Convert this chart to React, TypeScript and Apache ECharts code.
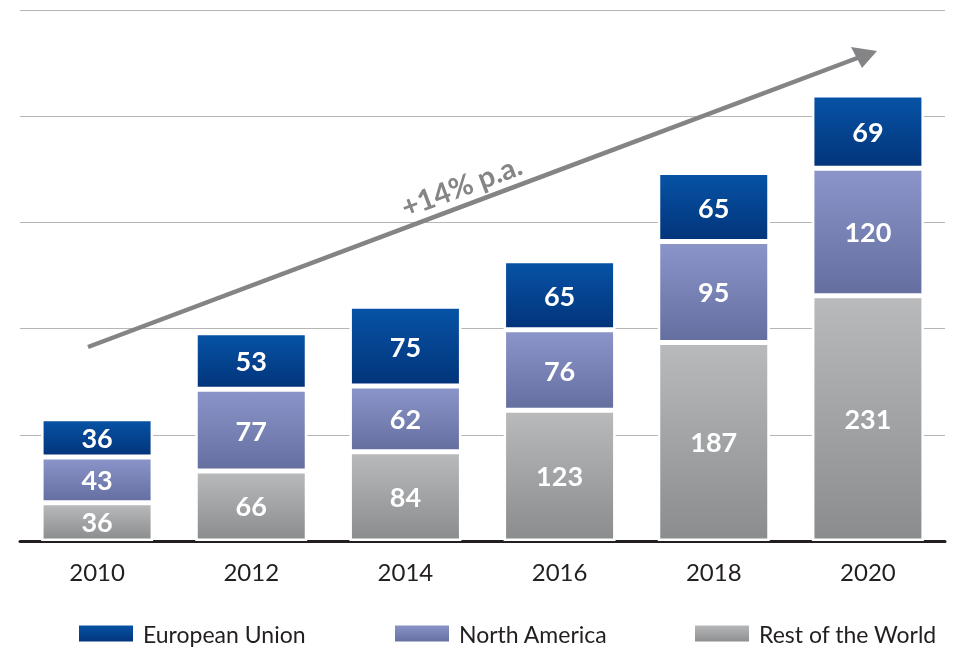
import React, { useEffect, useRef } from "react";
import * as echarts from "echarts";

const categories = ["2010", "2012", "2014", "2016", "2018", "2020"];
const restOfWorld = [36, 66, 84, 123, 187, 231];
const northAmerica = [43, 77, 62, 76, 95, 120];
const europeanUnion = [36, 53, 75, 65, 65, 69];
const seriesNames = ["European Union", "North America", "Rest of the World"];
const growthLabel = "+14% p.a.";

const FONT = "Lato, 'Open Sans', sans-serif";

const grad = (top: string, bottom: string) =>
  new echarts.graphic.LinearGradient(0, 0, 0, 1, [
    { offset: 0, color: top },
    { offset: 1, color: bottom },
  ]);

export default function App() {
  const ref = useRef<HTMLDivElement>(null);
  useEffect(() => {
    if (!ref.current) return;
    const chart = echarts.init(ref.current, undefined, { renderer: "svg" });
    const euColor = grad("#0753a6", "#02347a");
    const naColor = grad("#8b95ca", "#646e9f");
    const rowColor = grad("#b9babc", "#8b8c8e");

    const label = {
      show: true,
      position: "inside",
      color: "#ffffff",
      fontFamily: FONT,
      fontWeight: "bold",
      fontSize: 27,
    };
    const itemBase = { borderColor: "#ffffff", borderWidth: 2.5 };

    const legendCommon = {
      orient: "horizontal",
      top: 622,
      padding: 0,
      itemWidth: 56,
      itemHeight: 18,
      icon: "rect",
      selectedMode: false,
      textStyle: {
        fontFamily: FONT,
        fontSize: 23,
        color: "#231f20",
        padding: [0, 0, 0, 4],
      },
    };

    chart.setOption({
      animation: false,
      grid: { left: 20, right: 10, top: 10, bottom: 107, containLabel: false },
      legend: [
        { ...legendCommon, left: 77, data: [seriesNames[0]] },
        { ...legendCommon, left: 393, data: [seriesNames[1]] },
        { ...legendCommon, left: 693, data: [seriesNames[2]] },
      ],
      xAxis: {
        type: "category",
        data: categories,
        axisLine: { show: true, lineStyle: { color: "#231f20", width: 3 } },
        axisTick: { show: false },
        axisLabel: {
          margin: 18,
          fontFamily: FONT,
          fontSize: 24,
          color: "#231f20",
        },
      },
      yAxis: {
        type: "value",
        min: 0,
        max: 500,
        interval: 100,
        axisLabel: { show: false },
        axisLine: { show: false },
        axisTick: { show: false },
        splitLine: { show: true, lineStyle: { color: "#b5b5b5", width: 1.2 } },
      },
      series: [
        {
          name: seriesNames[2],
          type: "bar",
          stack: "total",
          barWidth: 112,
          data: restOfWorld,
          itemStyle: { ...itemBase, color: rowColor },
          label,
        },
        {
          name: seriesNames[1],
          type: "bar",
          stack: "total",
          barWidth: 112,
          data: northAmerica,
          itemStyle: { ...itemBase, color: naColor },
          label,
        },
        {
          name: seriesNames[0],
          type: "bar",
          stack: "total",
          barWidth: 112,
          data: europeanUnion,
          itemStyle: { ...itemBase, color: euColor },
          label,
        },
      ],
      graphic: [
        {
          type: "line",
          shape: { x1: 88, y1: 347, x2: 860, y2: 57 },
          style: { stroke: "#848486", lineWidth: 4.5 },
          z: 10,
        },
        {
          type: "polygon",
          shape: { points: [[877, 51], [851, 47], [862, 68]] },
          style: { fill: "#848486" },
          z: 10,
        },
        {
          type: "text",
          x: 461,
          y: 185,
          rotation: (20.6 * Math.PI) / 180,
          style: {
            text: growthLabel,
            fill: "#858587",
            font: `bold 29px ${FONT}`,
            align: "center",
            verticalAlign: "middle",
          },
          z: 10,
        },
      ],
    });
    return () => chart.dispose();
  }, []);
  return (
    <div
      ref={ref}
      style={{ position: "fixed", left: 0, top: 0, width: 955, height: 648 }}
    />
  );
}
